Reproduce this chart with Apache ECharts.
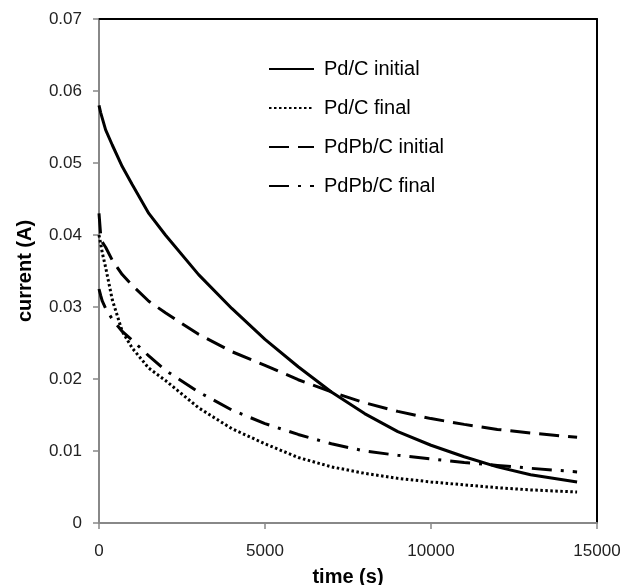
<!DOCTYPE html>
<html>
<head>
<meta charset="utf-8">
<script src="https://cdn.jsdelivr.net/npm/echarts@6/dist/echarts.min.js"></script>
<style>html,body{margin:0;padding:0;background:#fff}#c{width:624px;height:585px}</style>
</head>
<body>
<div id="c"></div>
<script>
var times = [0, 50, 100, 200, 400, 700, 1000, 1500, 2000, 3000, 4000, 5000, 6000, 7000, 8000, 9000, 10000, 11000, 12000, 13000, 14400];
var pdcInitial   = [0.058, 0.0570, 0.0562, 0.0546, 0.0525, 0.0495, 0.0470, 0.0430, 0.0400, 0.0345, 0.0298, 0.0255, 0.0217, 0.0182, 0.0152, 0.0127, 0.0108, 0.0092, 0.0078, 0.0067, 0.0057];
var pdcFinal     = [0.040, 0.0388, 0.0375, 0.0355, 0.0310, 0.0266, 0.0243, 0.0215, 0.0198, 0.0160, 0.0131, 0.0110, 0.0091, 0.0078, 0.0069, 0.0062, 0.0057, 0.0053, 0.0049, 0.0046, 0.0043];
var pdpbInitial  = [0.043, 0.0400, 0.0390, 0.0383, 0.0365, 0.0345, 0.0330, 0.0308, 0.0292, 0.0262, 0.0238, 0.0219, 0.0199, 0.0182, 0.0167, 0.0155, 0.0145, 0.0137, 0.0130, 0.0125, 0.0119];
var pdpbFinal    = [0.0325, 0.0316, 0.0308, 0.0298, 0.0283, 0.0266, 0.0254, 0.0232, 0.0212, 0.0182, 0.0157, 0.0138, 0.0123, 0.0110, 0.0100, 0.0094, 0.0089, 0.0084, 0.0080, 0.0076, 0.0071];
var seriesNames = ['Pd/C initial', 'Pd/C final', 'PdPb/C initial', 'PdPb/C final'];
var xTicks = [0, 5000, 10000, 15000];
var yTicks = [0, 0.01, 0.02, 0.03, 0.04, 0.05, 0.06, 0.07];

function pairs(vals){ return times.map(function(t,i){ return [t, vals[i]]; }); }
var dashTypes = ['solid', [2.5, 2.5], [20, 9], [20, 9, 3, 9]];
var allVals = [pdcInitial, pdcFinal, pdpbInitial, pdpbFinal];

var chart = echarts.init(document.getElementById('c'));
var font = 'Liberation Sans, Arial, sans-serif';
var baseX = {
  type: 'value', min: xTicks[0], max: xTicks[xTicks.length-1], interval: 5000
};
var baseY = {
  type: 'value', min: yTicks[0], max: yTicks[yTicks.length-1], interval: 0.01
};
chart.setOption({
  animation: false,
  backgroundColor: '#fff',
  grid: {left: 99, right: 27, top: 19, bottom: 62, containLabel: false, outerBoundsMode: 'none'},
  legend: {
    orient: 'vertical', left: 263, top: 54,
    itemWidth: 45, itemHeight: 14, itemGap: 19,
    itemStyle: {opacity: 0},
    textStyle: {fontFamily: font, fontSize: 20, color: '#000', padding: [0,0,0,5]},
    data: seriesNames
  },
  xAxis: [Object.assign({}, baseX, {
    position: 'bottom',
    name: 'time (s)', nameLocation: 'middle', nameGap: 44,
    nameTextStyle: {fontFamily: font, fontSize: 20, fontWeight: 'bold', color: '#000'},
    axisLine: {show: true, lineStyle: {color: '#888', width: 2}},
    axisTick: {show: true, length: 6, lineStyle: {color: '#888', width: 1.5}},
    axisLabel: {fontFamily: font, fontSize: 17, color: '#222', margin: 20, formatter: function(v){ return String(v); }},
    splitLine: {show: false}
  }), Object.assign({}, baseX, {
    position: 'top',
    axisLine: {show: true, onZero: false, lineStyle: {color: '#000', width: 2}},
    axisTick: {show: false}, axisLabel: {show: false}, splitLine: {show: false}
  })],
  yAxis: [Object.assign({}, baseY, {
    position: 'left',
    name: 'current (A)', nameLocation: 'middle', nameGap: 64, nameRotate: 90,
    nameTextStyle: {fontFamily: font, fontSize: 20, fontWeight: 'bold', color: '#000'},
    axisLine: {show: true, lineStyle: {color: '#888', width: 2}},
    axisTick: {show: true, length: 6, lineStyle: {color: '#888', width: 1.5}},
    axisLabel: {fontFamily: font, fontSize: 17, color: '#222', margin: 17, formatter: function(v){ return v === 0 ? '0' : v.toFixed(2); }},
    splitLine: {show: false}
  }), Object.assign({}, baseY, {
    position: 'right',
    axisLine: {show: true, onZero: false, lineStyle: {color: '#000', width: 2}},
    axisTick: {show: false}, axisLabel: {show: false}, splitLine: {show: false}
  })],
  series: seriesNames.map(function(n, i){
    return {
      name: n, type: 'line', xAxisIndex: 0, yAxisIndex: 0,
      data: pairs(allVals[i]),
      showSymbol: false, symbol: 'none',
      smooth: false,
      lineStyle: {color: '#000', width: 3, type: dashTypes[i]},
      itemStyle: {color: '#000'}
    };
  })
});
</script>
</body>
</html>
